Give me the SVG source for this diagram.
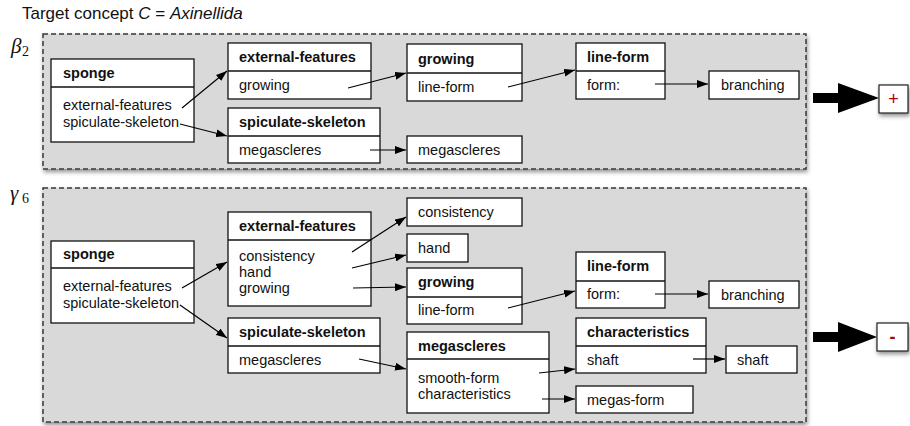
<svg xmlns="http://www.w3.org/2000/svg" width="910" height="426" viewBox="0 0 910 426">
<defs>
<filter id="sh" x="-10%" y="-10%" width="130%" height="140%">
<feDropShadow dx="1" dy="2.5" stdDeviation="2" flood-color="#000" flood-opacity="0.45"/>
</filter>
<marker id="ah" markerUnits="userSpaceOnUse" markerWidth="11" markerHeight="8" refX="11" refY="4" orient="auto">
<path d="M0,0 L11,4 L0,8 z" fill="#000"/>
</marker>
<style>
text{font-family:"Liberation Sans",Arial,Helvetica,sans-serif;font-size:14.5px;fill:#111}
.t{font-weight:bold}
.n{fill:#fff;stroke:#111;stroke-width:1.3}
.d{stroke:#111;stroke-width:1.3}
.panel{fill:#d9d9d9;stroke:#3a3a3a;stroke-width:1.5;stroke-dasharray:5 3;filter:url(#sh)}
.c line{stroke:#000;stroke-width:1.2;marker-end:url(#ah)}
.big{fill:#000}
.sign{fill:#fff;stroke:#222;stroke-width:1.2;filter:url(#sh)}
.m{font-family:"Liberation Serif","Times New Roman",serif;font-style:italic;font-size:21px}
.ms{font-family:"Liberation Serif","Times New Roman",serif;font-size:14px}
</style>
</defs>
<rect width="910" height="426" fill="#fff"/>
<text x="22" y="19" style="font-size:17px">Target concept <tspan font-style="italic">C</tspan> = <tspan font-style="italic">Axinellida</tspan></text>

<g id="panel-beta2">
<rect class="panel" x="43" y="34" width="763" height="135"/>
<text class="m" x="11" y="53">β</text><text class="ms" x="22" y="56">2</text>
</g>
<g id="panel-gamma6">
<rect class="panel" x="43" y="188" width="763" height="234"/>
<text class="m" x="10" y="200">γ</text><text class="ms" x="22" y="203">6</text>
</g>

<!-- Panel 1 nodes -->
<g id="p1-sponge"><rect class="n" x="51" y="59" width="143" height="83"/><line class="d" x1="51" y1="87" x2="194" y2="87"/>
<text class="t" x="63" y="78">sponge</text><text x="63" y="110">external-features</text><text x="63" y="127">spiculate-skeleton</text></g>
<g id="p1-external-features"><rect class="n" x="228" y="43" width="143" height="56"/><line class="d" x1="228" y1="71" x2="371" y2="71"/>
<text class="t" x="239" y="62">external-features</text><text x="239" y="90">growing</text></g>
<g id="p1-spiculate-skeleton"><rect class="n" x="228" y="108" width="152" height="55"/><line class="d" x1="228" y1="136" x2="380" y2="136"/>
<text class="t" x="239" y="127">spiculate-skeleton</text><text x="239" y="155">megascleres</text></g>
<g id="p1-growing"><rect class="n" x="407" y="44" width="115" height="57"/><line class="d" x1="407" y1="73" x2="522" y2="73"/>
<text class="t" x="418" y="64">growing</text><text x="418" y="92">line-form</text></g>
<g id="p1-megascleres"><rect class="n" x="407" y="136" width="115" height="27"/><text x="418" y="155">megascleres</text></g>
<g id="p1-line-form"><rect class="n" x="576" y="43" width="89" height="56"/><line class="d" x1="576" y1="71" x2="665" y2="71"/>
<text class="t" x="587" y="62">line-form</text><text x="587" y="90">form:</text></g>
<g id="p1-branching"><rect class="n" x="709" y="71" width="90" height="28"/><text x="721" y="90">branching</text></g>
<g id="p1-plus"><polygon class="big" points="813,93 838,93 838,83 879,98 838,113 838,103 813,103"/>
<rect class="sign" x="879" y="85" width="29" height="28"/><text x="893.5" y="105" text-anchor="middle" style="fill:#b00000;font-size:18px">+</text></g>

<!-- Panel 2 nodes -->
<g id="p2-sponge"><rect class="n" x="51" y="241" width="143" height="82"/><line class="d" x1="51" y1="268" x2="194" y2="268"/>
<text class="t" x="63" y="259">sponge</text><text x="63" y="291">external-features</text><text x="63" y="308">spiculate-skeleton</text></g>
<g id="p2-external-features"><rect class="n" x="228" y="212" width="143" height="94"/><line class="d" x1="228" y1="240" x2="371" y2="240"/>
<text class="t" x="239" y="231">external-features</text><text x="239" y="261">consistency</text><text x="239" y="277">hand</text><text x="239" y="293">growing</text></g>
<g id="p2-spiculate-skeleton"><rect class="n" x="228" y="318" width="152" height="55"/><line class="d" x1="228" y1="346" x2="380" y2="346"/>
<text class="t" x="239" y="337">spiculate-skeleton</text><text x="239" y="365">megascleres</text></g>
<g id="p2-consistency"><rect class="n" x="407" y="198" width="115" height="28"/><text x="418" y="217">consistency</text></g>
<g id="p2-hand"><rect class="n" x="407" y="234" width="61" height="28"/><text x="418" y="253">hand</text></g>
<g id="p2-growing"><rect class="n" x="407" y="268" width="115" height="56"/><line class="d" x1="407" y1="297" x2="522" y2="297"/>
<text class="t" x="418" y="287">growing</text><text x="418" y="315">line-form</text></g>
<g id="p2-megascleres"><rect class="n" x="407" y="332" width="142" height="81"/><line class="d" x1="407" y1="359" x2="549" y2="359"/>
<text class="t" x="418" y="351">megascleres</text><text x="418" y="383">smooth-form</text><text x="418" y="399">characteristics</text></g>
<g id="p2-line-form"><rect class="n" x="576" y="252" width="89" height="56"/><line class="d" x1="576" y1="281" x2="665" y2="281"/>
<text class="t" x="587" y="271">line-form</text><text x="587" y="299">form:</text></g>
<g id="p2-branching"><rect class="n" x="709" y="281" width="90" height="27"/><text x="721" y="300">branching</text></g>
<g id="p2-characteristics"><rect class="n" x="576" y="318" width="130" height="55"/><line class="d" x1="576" y1="346" x2="706" y2="346"/>
<text class="t" x="587" y="337">characteristics</text><text x="587" y="365">shaft</text></g>
<g id="p2-shaft"><rect class="n" x="726" y="346" width="71" height="27"/><text x="737" y="365">shaft</text></g>
<g id="p2-megas-form"><rect class="n" x="576" y="386" width="117" height="27"/><text x="587" y="405">megas-form</text></g>
<g id="p2-minus"><polygon class="big" points="813,332 838,332 838,322 877,337 838,352 838,342 813,342"/>
<rect class="sign" x="877" y="323" width="31" height="28"/><text x="892.5" y="343" text-anchor="middle" style="fill:#b00000;font-size:18px;font-weight:bold">-</text></g>

<g id="connectors" class="c">
<line x1="182" y1="108" x2="227" y2="71"/>
<line x1="180" y1="124" x2="227" y2="136"/>
<line x1="348" y1="88" x2="406" y2="73"/>
<line x1="370" y1="150" x2="406" y2="150"/>
<line x1="508" y1="87" x2="575" y2="70"/>
<line x1="655" y1="84" x2="708" y2="84"/>

<line x1="182" y1="288" x2="227" y2="262"/>
<line x1="180" y1="305" x2="227" y2="338"/>
<line x1="352" y1="252" x2="406" y2="217"/>
<line x1="352" y1="268" x2="406" y2="255"/>
<line x1="353" y1="288" x2="406" y2="287"/>
<line x1="359" y1="359" x2="406" y2="369"/>
<line x1="508" y1="308" x2="575" y2="291"/>
<line x1="655" y1="294" x2="708" y2="294"/>
<line x1="539" y1="373" x2="575" y2="369"/>
<line x1="542" y1="399" x2="575" y2="399"/>
<line x1="693" y1="359" x2="725" y2="359"/>
</g>
</svg>
